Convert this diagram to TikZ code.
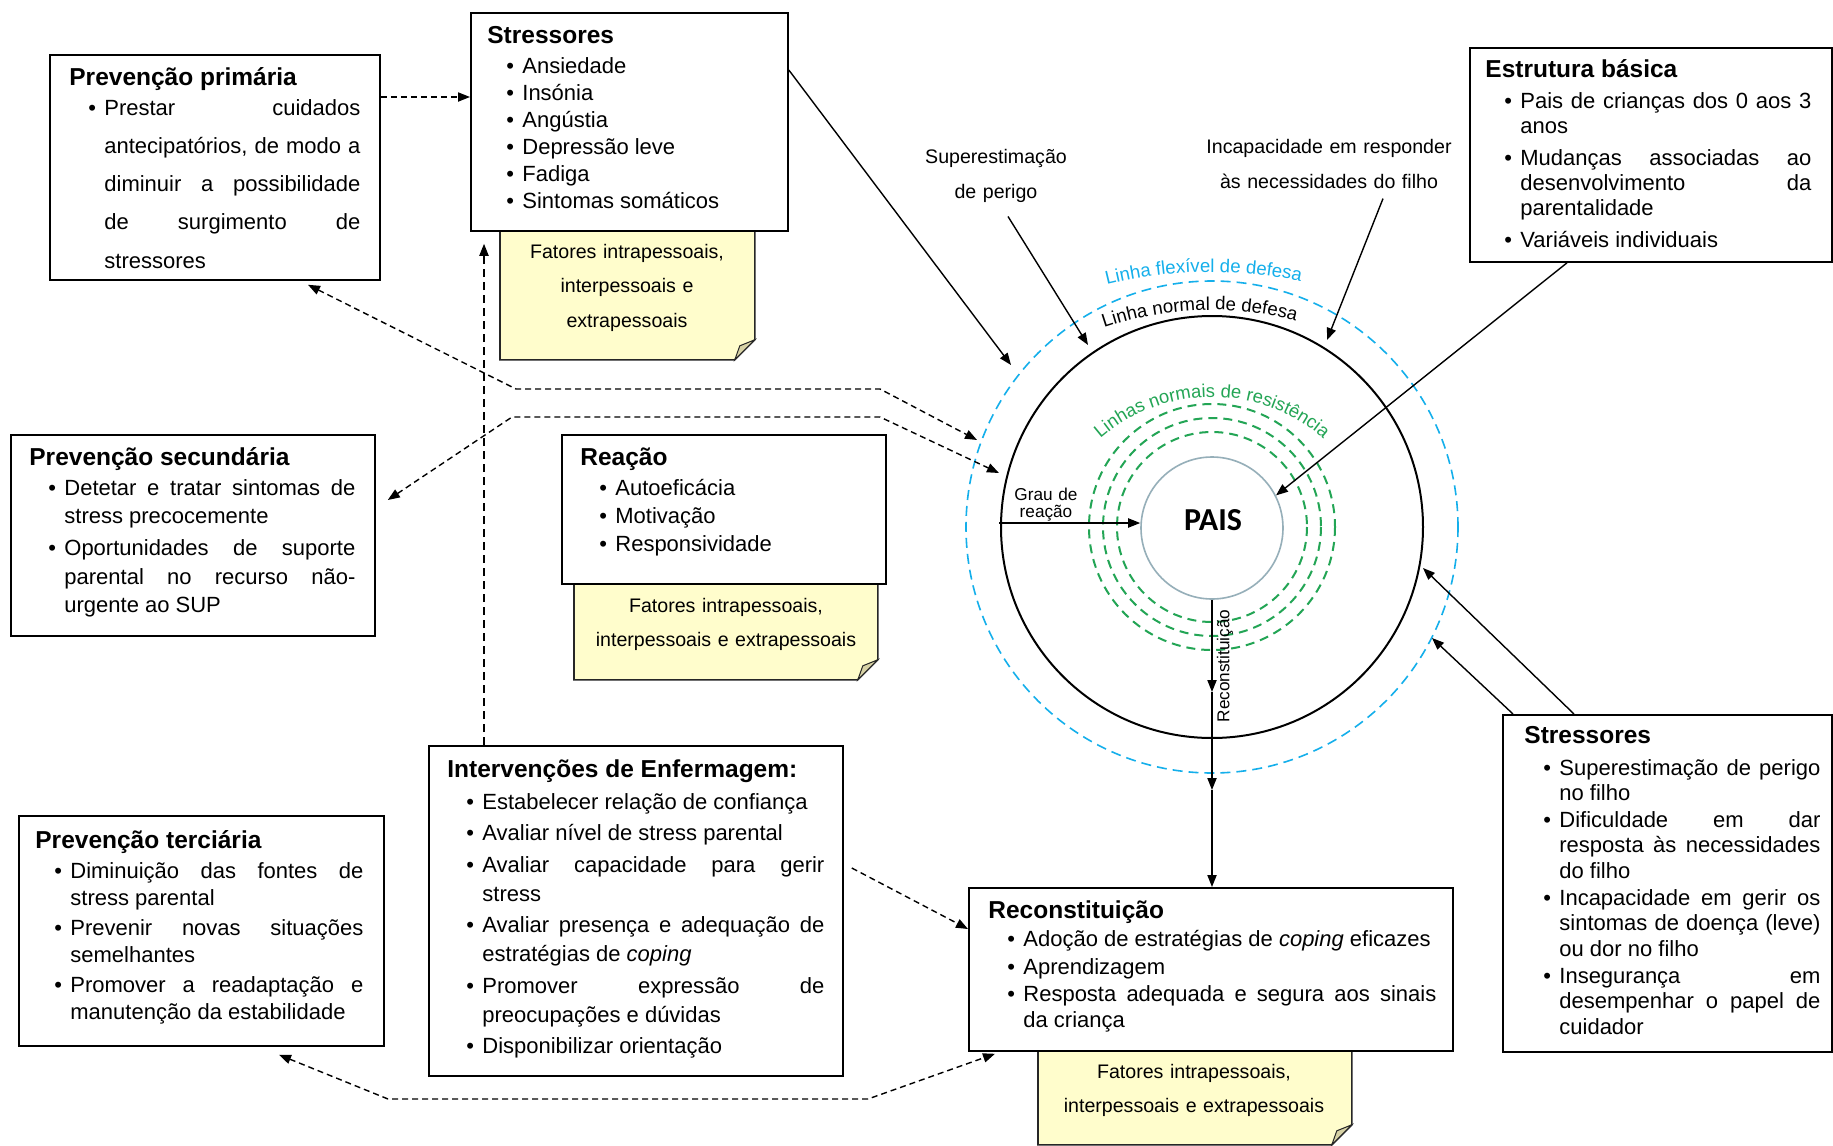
\documentclass[tikz,border=0pt]{standalone}
\usepackage{fontspec}
\setmainfont{Liberation Sans}
\newfontfamily\calibri{Carlito}
\usetikzlibrary{arrows.meta,calc,decorations.text}
\definecolor{lblue}{RGB}{20,175,235}
\definecolor{lgreen}{RGB}{35,165,85}
\definecolor{paisc}{RGB}{150,175,185}
\definecolor{noteY}{RGB}{255,253,204}
\definecolor{noteF}{RGB}{215,210,165}
\newcommand\ttl[1]{{\fontsize{12.25pt}{14pt}\selectfont\bfseries #1\par}}
\newcommand\bi[1]{\par\noindent\hangindent=17.5pt\hangafter=1\makebox[17.5pt][l]{\hspace{9.5pt}\textbullet}#1\par}
\newcommand\bxfont[2]{\fontsize{11pt}{#1}\selectfont\setlength{\parskip}{#2}\leftskip=0pt\rightskip=0pt\parfillskip=0pt plus 1fil\tolerance=10000 \hyphenpenalty=10000 \hbadness=10000 }
\newcommand\drawnote[1]{%
  \filldraw[fill=noteY, draw=black!85, line width=0.8pt] (#1.north west) -- (#1.north east) -- ($(#1.south east)+(0,-20)$) -- ($(#1.south east)+(-20,0)$) -- (#1.south west) -- cycle;
  \filldraw[fill=noteF, draw=black!85, line width=0.5pt] ($(#1.south east)+(0,-20)$) -- ($(#1.south east)+(-20,0)$) -- ($(#1.south east)+(-15,-14)$) -- cycle;}
\tikzset{
  >={Triangle[length=6pt,width=4.6pt]},
  box/.style={draw=black, line width=0.9pt, fill=white, inner sep=0pt, anchor=north west},
  txt/.style={inner sep=0pt, anchor=base west, align=justify},
  notebox/.style={inner sep=0pt, anchor=north west, draw=none},
  ntxt/.style={inner sep=0pt, anchor=base, align=center, font=\fontsize{9.8pt}{17.25pt}\selectfont},
  lbl/.style={inner sep=0pt, anchor=base, align=center, text width=140pt, font=\fontsize{9.8pt}{17.5pt}\selectfont},
  arr/.style={line width=0.7pt, ->},
  dsh/.style={line width=0.7pt, dash pattern=on 3pt off 2pt},
  dshv/.style={line width=0.7pt, dash pattern=on 4pt off 2.5pt},
}
\begin{document}
\begin{tikzpicture}[x=0.5pt,y=-0.5pt]
\useasboundingbox (0,0) rectangle (1833,1146);
\fill[white] (0,0) rectangle (1833,1146);

% circles
\coordinate (O) at (1212,527);
\draw[lblue, line width=0.8pt, dash pattern=on 5pt off 3pt] (O) circle[radius=246];
\draw[black, line width=1pt] (O) circle[radius=211];
\foreach \r in {123,109,95} \draw[lgreen, line width=1pt, dash pattern=on 4.5pt off 3pt] (O) circle[radius=\r];
\node[circle, draw=paisc, line width=0.8pt, minimum size=71pt, inner sep=0pt] (pais) at (1212,528) {};
\node[font={\fontsize{16pt}{18pt}\selectfont\calibri\bfseries}] (paisl) at (1213,520) {PAIS};

% arc labels
\path[decorate, decoration={text along path, text align=center, text={|\fontsize{9.3pt}{11pt}\selectfont\color{lblue}|Linha flexível de defesa}}] ($(1211,700)+(121:214pt)$) arc[start angle=121, end angle=61, radius=214pt];
\path[decorate, decoration={text along path, text align=center, text={|\fontsize{9.3pt}{11pt}\selectfont|Linha normal de defesa}}] ($(1211,640)+(127:165pt)$) arc[start angle=127, end angle=57, radius=165pt];
\path[decorate, decoration={text along path, text align=center, text={|\fontsize{9.2pt}{11pt}\selectfont\color{lgreen}|Linhas normais de resistência}}] ($(1212,567)+(150:85pt)$) arc[start angle=150, end angle=30, radius=85pt];

% notes
\node[notebox, minimum width=127pt, minimum height=65pt] (n1) at (500,229) {};
\node[notebox, minimum width=151.5pt, minimum height=48pt] (n2) at (574,583) {};
\node[notebox, minimum width=156.5pt, minimum height=47pt] (n3) at (1038,1050) {};
\drawnote{n1}\drawnote{n2}\drawnote{n3}
\node[ntxt, text width=125pt] (n1t) at (627,258) {Fatores intrapessoais,\\interpessoais e\\extrapessoais};
\node[ntxt, text width=150pt] (n2t) at (726,612) {Fatores intrapessoais,\\interpessoais e extrapessoais};
\node[ntxt, text width=150pt] (n3t) at (1194,1078) {Fatores intrapessoais,\\interpessoais e extrapessoais};

% boxes
\node[box, minimum width=165pt, minimum height=112.5pt] (pp) at (49,54) {};
\node[box, minimum width=158.5pt, minimum height=109pt] (st) at (470,12) {};
\node[box, minimum width=181pt, minimum height=107pt] (eb) at (1469,47) {};
\node[box, minimum width=182pt, minimum height=100.5pt] (ps) at (10,434) {};
\node[box, minimum width=162pt, minimum height=74.5pt] (re) at (561,434) {};
\node[box, minimum width=207pt, minimum height=165pt] (iv) at (428,745) {};
\node[box, minimum width=182.5pt, minimum height=115pt] (terc) at (18,815) {};
\node[box, minimum width=242pt, minimum height=81.5pt] (rc) at (968,887) {};
\node[box, minimum width=164.5pt, minimum height=168.5pt] (sb) at (1502,714) {};

% box texts
\node[txt, text width=145.5pt] (ppt) at (69,85) {\bxfont{19.125pt}{0pt}\ttl{Prevenção primária}\vspace{-4.125pt}\bi{Prestar cuidados\linebreak antecipatórios, de modo a\linebreak diminuir a possibilidade\linebreak de surgimento de\linebreak stressores}};
\node[txt, text width=140.5pt] (stt) at (487,43) {\bxfont{13.5pt}{0pt}\ttl{Stressores}\vspace{1.5pt}\bi{Ansiedade}\bi{Insónia}\bi{Angústia}\bi{Depressão leve}\bi{Fadiga}\bi{Sintomas somáticos}};
\node[txt, text width=163pt] (ebt) at (1485,77) {\bxfont{12.5pt}{3.5pt}\ttl{Estrutura básica}\vspace{-0.5pt}\bi{Pais de crianças dos 0 aos 3\linebreak anos}\bi{Mudanças associadas ao\linebreak desenvolvimento da\linebreak parentalidade}\bi{Variáveis individuais}};
\node[txt, text width=163pt] (pst) at (29,465) {\bxfont{14.4pt}{1.35pt}\ttl{Prevenção secundária}\vspace{-0.75pt}\bi{Detetar e tratar sintomas de\linebreak stress precocemente}\bi{Oportunidades de suporte\linebreak parental no recurso não-\linebreak urgente ao SUP}};
\node[txt, text width=143pt] (ret) at (580,465) {\bxfont{14pt}{0pt}\ttl{Reação}\vspace{1pt}\bi{Autoeficácia}\bi{Motivação}\bi{Responsividade}};
\node[txt, text width=188.5pt] (ivt) at (447,777) {\bxfont{14.5pt}{1.25pt}\ttl{Intervenções de Enfermagem:}\vspace{0.25pt}\bi{Estabelecer relação de confiança}\bi{Avaliar nível de stress parental}\bi{Avaliar capacidade para gerir\linebreak stress}\bi{Avaliar presença e adequação de\linebreak estratégias de \textit{coping}}\bi{Promover expressão de\linebreak preocupações e dúvidas}\bi{Disponibilizar orientação}};
\node[txt, text width=164pt] (terct) at (35,848) {\bxfont{13.5pt}{1.5pt}\ttl{Prevenção terciária}\bi{Diminuição das fontes de\linebreak stress parental}\bi{Prevenir novas situações\linebreak semelhantes}\bi{Promover a readaptação e\linebreak manutenção da estabilidade}};
\node[txt, text width=224pt] (rct) at (988,918) {\bxfont{12.75pt}{1pt}\ttl{Reconstituição}\vspace{0.5pt}\bi{Adoção de estratégias de \textit{coping} eficazes}\bi{Aprendizagem}\bi{Resposta adequada e segura aos sinais\linebreak da criança}};
\node[txt, text width=148pt] (sbt) at (1524,743) {\bxfont{12.65pt}{1pt}\ttl{Stressores}\vspace{2.35pt}\bi{Superestimação de perigo\linebreak no filho}\bi{Dificuldade em dar\linebreak resposta às necessidades\linebreak do filho}\bi{Incapacidade em gerir os\linebreak sintomas de doença (leve)\linebreak ou dor no filho}\bi{Insegurança em\linebreak desempenhar o papel de\linebreak cuidador}};

% small labels
\node[lbl] (sup) at (996,163) {Superestimação\\de perigo};
\node[lbl] (inc) at (1329,153) {Incapacidade em responder\\às necessidades do filho};
\node[inner sep=0pt, anchor=base, align=center, text width=40pt, font=\fontsize{8.6pt}{8.5pt}\selectfont] (grau) at (1046,500) {Grau de\\reação};
\node[inner sep=0pt, rotate=90, font=\fontsize{8.6pt}{10pt}\selectfont] (rlbl) at (1225,666) {Reconstituição};

% solid arrows
\coordinate (t1) at (1011,365);
\coordinate (t2) at (1088,345);
\coordinate (t3) at (1327,340);
\coordinate (t5) at (1423,568);
\coordinate (t6) at (1432,638);
\coordinate (g0) at (999,523);
\coordinate (rv1) at (1212,692);
\coordinate (rv2) at (1212,790);
\draw[arr] ($(st.north east)+(0,58)$) -- (t1);
\draw[arr] ($(sup.south)+(12,14)$) -- (t2);
\draw[arr] ($(inc.south)+(54,10)$) -- (t3);
\draw[arr] ($(eb.south west)+(98,0)$) -- (pais.27);
\draw[arr] ($(sb.north west)+(72,0)$) -- (t5);
\draw[arr] ($(sb.north west)+(11,0)$) -- (t6);
\draw[arr] (g0) -- (g0 -| pais.west);
\draw[arr] (pais.south) -- (rv1);
\draw[arr] (rv1) -- (rv2);
\draw[arr] (rv2) -- (rv2 |- rc.north);

% dashed connectors
\coordinate (b1) at (516,389);
\coordinate (b2) at (880,389);
\coordinate (b3) at (977,440);
\coordinate (c1) at (512,417);
\coordinate (c2) at (880,417);
\coordinate (c3) at (999,473);
\coordinate (f1) at (388,1099);
\coordinate (f2) at (868,1099);
\draw[dsh,->] ($(pp.north east)+(0,43)$) -- ($(st.north west)+(0,85)$);
\draw[dsh,<->] ($(pp.south west)+(259,4)$) -- (b1) -- (b2) -- (b3);
\draw[dsh,<->] ($(ps.north east)+(12,66)$) -- (c1) -- (c2) -- (c3);
\draw[dshv,->] ($(iv.north west)+(56,0)$) -- ($(st.south west)+(14,12)$);
\draw[dsh,->] ($(iv.north east)+(8,123)$) -- ($(rc.north west)+(0,42)$);
\draw[dsh,<->] ($(terc.south west)+(261,8)$) -- (f1) -- (f2) -- ($(rc.south west)+(27,2)$);
\end{tikzpicture}
\end{document}
